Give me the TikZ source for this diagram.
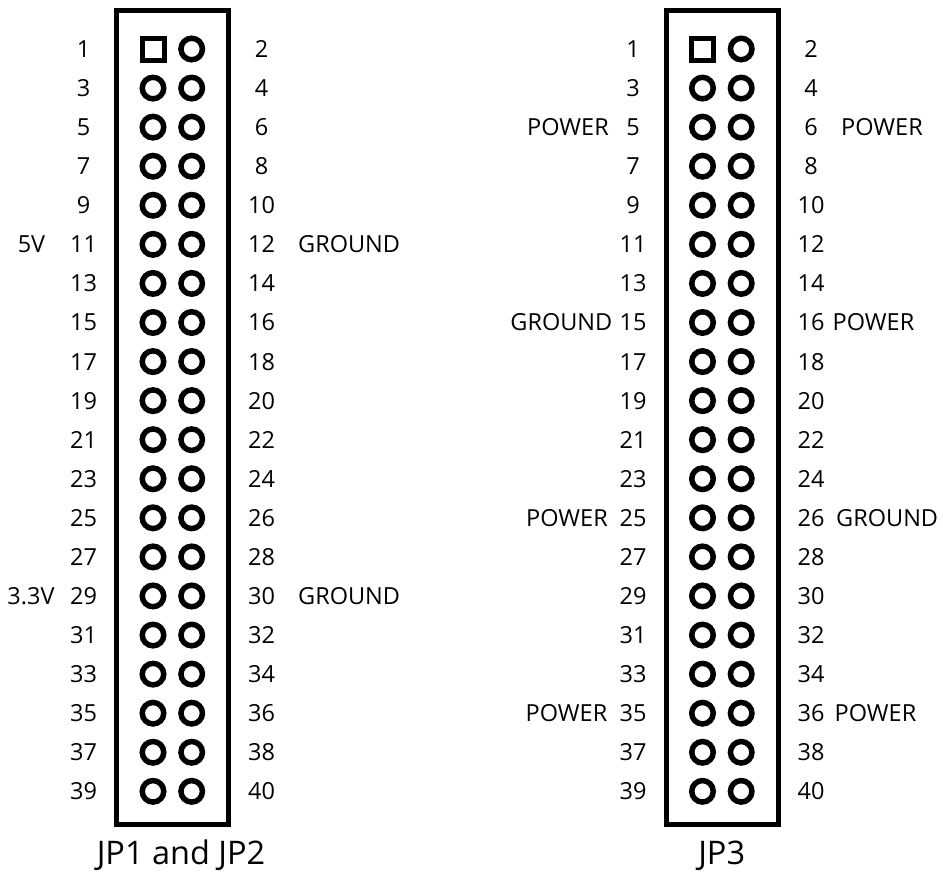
\documentclass[tikz,border=0pt]{standalone}
\usepackage{fontspec}
\setmainfont{Open Sans}
\begin{document}
\begin{tikzpicture}[x=1pt,y=-1pt,
  lbl/.style={font=\fontsize{23.5}{28}\selectfont, inner sep=0pt, anchor=base},
  lblw/.style={lbl, anchor=base west},
  lble/.style={lbl, anchor=base east},
  ttl/.style={font=\fontsize{32.5}{38}\selectfont, inner sep=0pt, anchor=base},
  hdr/.style={draw, line width=5pt},
  rpin/.style={draw, circle, line width=5.5pt, minimum size=21.5pt, inner sep=0pt},
  spin/.style={draw, rectangle, line width=5pt, minimum size=22pt, inner sep=0pt}]
\useasboundingbox (0,0) rectangle (943,873);
\foreach \L/\n in {116.5/a,666/b} {
  \draw[hdr] (\L,10.5) rectangle ++(112,813.5);
  \foreach \i in {0,...,19} {
    \pgfmathsetmacro\yc{49+39.07*\i}
    \pgfmathtruncatemacro\odd{2*\i+1}
    \pgfmathtruncatemacro\even{2*\i+2}
    \ifnum\i=0
      \node[spin] (\n-p\odd) at (\L+36.5,\yc) {};
    \else
      \node[rpin] (\n-p\odd) at (\L+36.5,\yc) {};
    \fi
    \node[rpin] (\n-p\even) at (\L+75.2,\yc) {};
    \node[lbl] (\n-t\odd) at (\L-33,\yc+8.5) {\odd};
    \node[lbl] (\n-t\even) at (\L+145,\yc+8.5) {\even};
  }
}
% left header labels
\node[lbl] (v5) at (31.5,{49+39.07*5+8.5}) {5V};
\node[lbl] (v33) at (31,{49+39.07*14+8.5}) {3.3V};
\node[lblw] (g12) at (298,{49+39.07*5+8.5}) {GROUND};
\node[lblw] (g30) at (298,{49+39.07*14+8.5}) {GROUND};
% right header labels
\node[lble] (p5) at (609,{49+39.07*2+8.5}) {POWER};
\node[lble] (g15) at (612.5,{49+39.07*7+8.5}) {GROUND};
\node[lble] (p25) at (608,{49+39.07*12+8.5}) {POWER};
\node[lble] (p35) at (607.5,{49+39.07*17+8.5}) {POWER};
\node[lblw] (p6) at (841,{49+39.07*2+8.5}) {POWER};
\node[lblw] (p16) at (832.5,{49+39.07*7+8.5}) {POWER};
\node[lblw] (g26) at (836,{49+39.07*12+8.5}) {GROUND};
\node[lblw] (p36) at (834.5,{49+39.07*17+8.5}) {POWER};
% titles
\node[ttl] (t1) at (181,864) {JP1 and JP2};
\node[ttl] (t2) at (721.7,864) {JP3};
\end{tikzpicture}
\end{document}
